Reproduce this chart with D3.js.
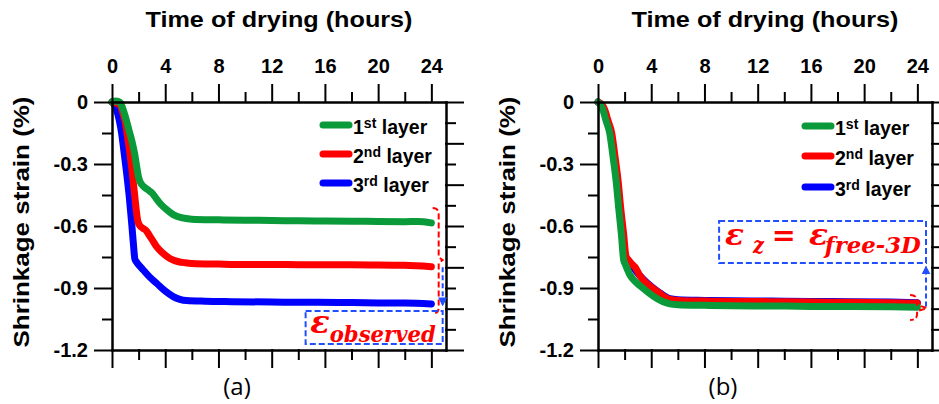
<!DOCTYPE html>
<html>
<head>
<meta charset="utf-8">
<script src="https://cdn.jsdelivr.net/npm/d3@7"></script>
<style>
  body { margin: 0; background: #fff; }
  svg { display: block; }
</style>
</head>
<body>
<script>
// ---- data: [hours, strain %] ----
const layerNames = ["1st layer", "2nd layer", "3rd layer"];
const layerColors = ["#0a9a3a", "#ff0000", "#0000ff"];

const panelA_layer1 = [[0,0],[0.3,0.005],[0.6,-0.002],[0.8,-0.03],[1.0,-0.07],[1.25,-0.13],[1.5,-0.19],[1.7,-0.25],[1.85,-0.31],[2.0,-0.365],[2.1,-0.385],[2.4,-0.41],[2.7,-0.425],[3.0,-0.44],[3.3,-0.465],[3.6,-0.49],[4.0,-0.515],[4.6,-0.545],[5.2,-0.56],[6,-0.567],[8,-0.57],[10,-0.572],[12,-0.573],[14,-0.575],[16,-0.576],[18,-0.577],[20,-0.578],[22,-0.579],[23,-0.578],[24,-0.585]];
const panelA_layer2 = [[0,0],[0.3,-0.005],[0.6,-0.015],[0.8,-0.05],[1.0,-0.10],[1.2,-0.18],[1.35,-0.25],[1.5,-0.33],[1.67,-0.43],[1.8,-0.51],[1.92,-0.57],[2.05,-0.595],[2.3,-0.61],[2.6,-0.625],[2.75,-0.64],[3.0,-0.665],[3.35,-0.70],[3.8,-0.73],[4.35,-0.757],[5.0,-0.773],[5.5,-0.778],[6,-0.781],[8,-0.784],[10,-0.786],[12,-0.786],[14,-0.787],[16,-0.788],[18,-0.788],[20,-0.789],[22,-0.79],[24,-0.797]];
const panelA_layer3 = [[0,0],[0.2,-0.015],[0.35,-0.04],[0.55,-0.09],[0.72,-0.15],[0.9,-0.24],[1.1,-0.344],[1.3,-0.46],[1.48,-0.587],[1.6,-0.68],[1.72,-0.76],[1.85,-0.775],[2.1,-0.795],[2.35,-0.813],[2.8,-0.845],[3.35,-0.877],[4.0,-0.915],[4.6,-0.942],[5.1,-0.955],[5.6,-0.961],[7,-0.964],[9,-0.966],[12,-0.968],[14,-0.969],[17,-0.97],[20,-0.972],[22,-0.973],[24,-0.977]];

const panelB_layer1 = [[0,0],[0.2,-0.015],[0.38,-0.04],[0.6,-0.09],[0.88,-0.15],[1.1,-0.25],[1.38,-0.393],[1.55,-0.51],[1.75,-0.635],[1.93,-0.765],[2.05,-0.785],[2.4,-0.837],[2.9,-0.875],[3.4,-0.902],[3.9,-0.928],[4.4,-0.95],[4.9,-0.967],[5.4,-0.977],[6,-0.981],[8,-0.984],[10,-0.986],[13,-0.987],[16,-0.989],[19,-0.99],[22,-0.991],[24,-0.993]];
const panelB_layer2 = [[0,0],[0.32,-0.015],[0.52,-0.04],[0.75,-0.09],[1.03,-0.15],[1.25,-0.25],[1.53,-0.393],[1.7,-0.51],[1.92,-0.635],[2.1,-0.745],[2.3,-0.765],[2.55,-0.785],[2.8,-0.80],[3.1,-0.835],[3.4,-0.861],[4.0,-0.895],[4.65,-0.926],[5.0,-0.943],[5.4,-0.955],[6,-0.96],[8,-0.963],[10,-0.965],[13,-0.966],[16,-0.968],[19,-0.969],[22,-0.971],[24,-0.974]];
const panelB_layer3 = [[0,0],[0.25,-0.015],[0.46,-0.04],[0.68,-0.09],[0.95,-0.15],[1.18,-0.25],[1.46,-0.393],[1.63,-0.51],[1.85,-0.635],[2.03,-0.75],[2.25,-0.77],[2.6,-0.795],[3.0,-0.83],[3.4,-0.858],[4.0,-0.893],[4.65,-0.924],[5.4,-0.952],[6,-0.957],[8,-0.96],[10,-0.962],[13,-0.963],[16,-0.965],[19,-0.966],[22,-0.968],[24,-0.971]];

// tick values
const xMajorTicks = [0, 4, 8, 12, 16, 20, 24];
const xMinorTicks = [2, 6, 10, 14, 18, 22];
const yMajorTicks = [0, -0.3, -0.6, -0.9, -1.2];
const yMinorTicks = [-0.15, -0.45, -0.75, -1.05];
const yRightMajor = [0, -0.2, -0.4, -0.6, -0.8, -1.0, -1.2];
const yRightMinor = [-0.1, -0.3, -0.5, -0.7, -0.9, -1.1];

const width = 939, height = 404;
const plotTop = 102, plotBottom = 350;
const font = "Arial, 'Liberation Sans', sans-serif";
const blueDash = "#1f4fff";

const svg = d3.select("body").append("svg")
  .attr("width", width)
  .attr("height", height);

const defs = svg.append("defs");
defs.append("marker")
  .attr("id", "arrowBlue")
  .attr("viewBox", "0 0 10 10")
  .attr("refX", 9).attr("refY", 5)
  .attr("markerWidth", 4.5).attr("markerHeight", 4.5)
  .attr("markerUnits", "strokeWidth")
  .attr("orient", "auto")
  .append("path")
  .attr("d", "M0,0 L10,5 L0,10 Z")
  .attr("fill", blueDash);

const panels = [
  { x0: 112, x1: 446, tag: "(a)", series: [panelA_layer1, panelA_layer2, panelA_layer3], legendX: 323, legendY: [125, 154, 183] },
  { x0: 598, x1: 932, tag: "(b)", series: [panelB_layer1, panelB_layer2, panelB_layer3], legendX: 805, legendY: [126, 156, 187] }
];

function styleAxis(g, size) {
  g.attr("font-family", font).attr("font-size", size).attr("font-weight", "bold");
  g.selectAll("path, line").attr("stroke", "#000").attr("stroke-width", 2).attr("stroke-linecap", "square");
  g.selectAll("text").attr("fill", "#000");
}

panels.forEach((p, pi) => {
  const x = d3.scaleLinear().domain([0, 25.1]).range([p.x0, p.x1]);
  const y = d3.scaleLinear().domain([-1.2, 0]).range([plotBottom, plotTop]);
  const g = svg.append("g");

  // curves, 3rd layer first so 1st layer sits on top
  const line = d3.line()
    .x(d => x(d[0]))
    .y(d => y(d[1]))
    .curve(d3.curveMonotoneX);

  [2, 1, 0].forEach(i => {
    g.append("path")
      .datum(p.series[i])
      .attr("fill", "none")
      .attr("stroke", layerColors[i])
      .attr("stroke-width", 7)
      .attr("stroke-linecap", "round")
      .attr("stroke-linejoin", "round")
      .attr("d", line);
  });

  // axes
  const fmtY = d => d === 0 ? "0" : d.toFixed(1);

  g.append("g").attr("transform", `translate(0,${plotTop})`)
    .call(d3.axisTop(x).tickValues(xMajorTicks).tickSize(17).tickSizeOuter(0).tickPadding(12).tickFormat(d3.format("d")))
    .call(a => styleAxis(a, 20));
  g.append("g").attr("transform", `translate(0,${plotTop})`)
    .call(d3.axisTop(x).tickValues(xMinorTicks).tickSize(9).tickSizeOuter(0).tickFormat(""))
    .call(a => styleAxis(a, 20));
  g.append("g").attr("transform", `translate(0,${plotBottom})`)
    .call(d3.axisBottom(x).tickValues(xMajorTicks).tickSize(17).tickSizeOuter(0).tickFormat(""))
    .call(a => styleAxis(a, 20));
  g.append("g").attr("transform", `translate(0,${plotBottom})`)
    .call(d3.axisBottom(x).tickValues(xMinorTicks).tickSize(9).tickSizeOuter(0).tickFormat(""))
    .call(a => styleAxis(a, 20));

  g.append("g").attr("transform", `translate(${p.x0},0)`)
    .call(d3.axisLeft(y).tickValues(yMajorTicks).tickSize(17).tickSizeOuter(0).tickPadding(7).tickFormat(fmtY))
    .call(a => styleAxis(a, 20));
  g.append("g").attr("transform", `translate(${p.x0},0)`)
    .call(d3.axisLeft(y).tickValues(yMinorTicks).tickSize(9).tickSizeOuter(0).tickFormat(""))
    .call(a => styleAxis(a, 20));
  g.append("g").attr("transform", `translate(${p.x1},0)`)
    .call(d3.axisRight(y).tickValues(yRightMajor).tickSize(17).tickSizeOuter(0).tickFormat(""))
    .call(a => styleAxis(a, 20));
  g.append("g").attr("transform", `translate(${p.x1},0)`)
    .call(d3.axisRight(y).tickValues(yRightMinor).tickSize(9).tickSizeOuter(0).tickFormat(""))
    .call(a => styleAxis(a, 20));

  // axis titles
  const cx = (p.x0 + p.x1) / 2;
  g.append("text")
    .attr("x", cx).attr("y", 27)
    .attr("text-anchor", "middle")
    .attr("font-family", font).attr("font-size", 22).attr("font-weight", "bold")
    .attr("textLength", 267).attr("lengthAdjust", "spacingAndGlyphs")
    .text("Time of drying (hours)");

  g.append("text")
    .attr("transform", `translate(${p.x0 - 83},222) rotate(-90)`)
    .attr("text-anchor", "middle")
    .attr("font-family", font).attr("font-size", 22).attr("font-weight", "bold")
    .attr("textLength", 251).attr("lengthAdjust", "spacingAndGlyphs")
    .text("Shrinkage strain (%)");

  g.append("text")
    .attr("x", cx - 42).attr("y", 395)
    .attr("text-anchor", "middle")
    .attr("font-family", "'Open Sans', sans-serif").attr("font-size", 24)
    .text(p.tag);

  // legend
  const sups = ["st", "nd", "rd"];
  layerNames.forEach((name, i) => {
    const ly = p.legendY[i];
    g.append("line")
      .attr("x1", p.legendX).attr("x2", p.legendX + 26)
      .attr("y1", ly).attr("y2", ly)
      .attr("stroke", layerColors[i])
      .attr("stroke-width", 7)
      .attr("stroke-linecap", "round");
    const t = g.append("text")
      .attr("x", p.legendX + 30).attr("y", ly + 9)
      .attr("font-family", font).attr("font-size", 19.5).attr("font-weight", "bold");
    t.append("tspan").text(String(i + 1));
    t.append("tspan").attr("dy", -6).attr("font-size", 14).text(sups[i]);
    t.append("tspan").attr("dy", 6).text(" layer");
  });

  // annotations
  const ann = g.append("g").attr("fill", "none");
  const serif = "'DejaVu Serif', 'Liberation Serif', serif";
  if (pi === 0) {
    // dashed brace on the right of the curve ends
    const bx = x(24.55), b0 = y(-0.513), bm = y(-0.765), b1 = y(-1.021);
    ann.append("path")
      .attr("d", `M${bx - 6},${b0} Q${bx},${b0} ${bx},${b0 + 6} L${bx},${bm - 3} L${bx + 4},${bm} L${bx},${bm + 3} L${bx},${b1 - 6} Q${bx},${b1} ${bx - 4},${b1}`)
      .attr("stroke", "#ff0000").attr("stroke-width", 2).attr("stroke-dasharray", "6,3");
    // arrow down
    ann.append("line")
      .attr("x1", x(24.85)).attr("x2", x(24.85))
      .attr("y1", y(-0.80)).attr("y2", y(-0.985))
      .attr("stroke", blueDash).attr("stroke-width", 2).attr("stroke-dasharray", "5,3")
      .attr("marker-end", "url(#arrowBlue)");
    ann.append("rect")
      .attr("x", x(14.55)).attr("y", y(-1.011))
      .attr("width", x(24.85) - x(14.55)).attr("height", y(-1.171) - y(-1.011))
      .attr("stroke", blueDash).attr("stroke-width", 2).attr("stroke-dasharray", "6,3");
    const t = g.append("text")
      .attr("x", x(14.9)).attr("y", y(-1.118))
      .attr("fill", "#ff0000").attr("font-family", serif)
      .attr("font-weight", "bold").attr("font-style", "italic");
    t.append("tspan").attr("font-size", 32).text("ε");
    t.append("tspan").attr("dy", 9).attr("font-size", 23)
      .attr("textLength", 106).attr("lengthAdjust", "spacingAndGlyphs").text("observed");
  } else {
    const bx = x(23.98), b0 = y(-0.934), bm = y(-0.997), b1 = y(-1.055);
    ann.append("path")
      .attr("d", `M${bx - 7},${b0} Q${bx},${b0} ${bx},${b0 + 6} L${bx},${bm - 3} L${bx + 10},${bm} L${bx},${bm + 3} L${bx},${b1 - 6} Q${bx},${b1} ${bx - 7},${b1}`)
      .attr("stroke", "#ff0000").attr("stroke-width", 2).attr("stroke-dasharray", "6,3");
    ann.append("line")
      .attr("x1", x(24.65)).attr("x2", x(24.65))
      .attr("y1", y(-0.99)).attr("y2", y(-0.795))
      .attr("stroke", blueDash).attr("stroke-width", 2).attr("stroke-dasharray", "5,3")
      .attr("marker-end", "url(#arrowBlue)");
    ann.append("rect")
      .attr("x", x(9.1)).attr("y", y(-0.576))
      .attr("width", x(24.65) - x(9.1)).attr("height", y(-0.779) - y(-0.576))
      .attr("stroke", blueDash).attr("stroke-width", 2).attr("stroke-dasharray", "6,3");
    const base = y(-0.692);
    const txt = (tx, dy, size, s, len) => {
      const e = g.append("text")
        .attr("x", x(tx)).attr("y", base + dy)
        .attr("fill", "#ff0000").attr("font-family", serif)
        .attr("font-weight", "bold").attr("font-style", "italic")
        .attr("font-size", size).text(s);
      if (len) e.attr("textLength", len).attr("lengthAdjust", "spacingAndGlyphs");
      return e;
    };
    txt(9.55, 0, 30, "ε", 19);
    txt(11.65, 8, 22, "z", 11);
    g.append("text")
      .attr("x", x(13.05)).attr("y", base)
      .attr("fill", "#ff0000").attr("font-family", serif).attr("font-weight", "bold")
      .attr("font-size", 30).attr("textLength", 24).attr("lengthAdjust", "spacingAndGlyphs").text("=");
    txt(15.85, 0, 30, "ε", 19);
    txt(17.05, 8, 22, "free-3D", 96);
  }
});
</script>
</body>
</html>
